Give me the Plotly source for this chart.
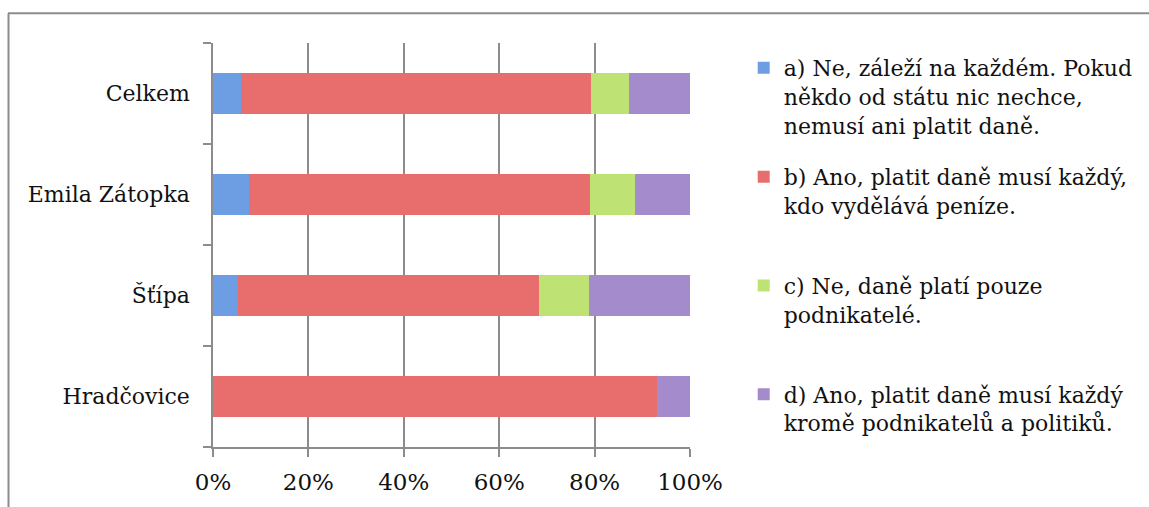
import plotly.graph_objects as go

categories = ["Hradčovice", "Šťípa", "Emila Zátopka", "Celkem"]
series_names = [
    "a) Ne, záleží na každém. Pokud<br>někdo od státu nic nechce,<br>nemusí ani platit daně.",
    "b) Ano, platit daně musí každý,<br>kdo vydělává peníze.<br> ",
    "c) Ne, daně platí pouze<br>podnikatelé.<br> ",
    "d) Ano, platit daně musí každý<br>kromě podnikatelů a politiků.<br> ",
]
a_vals = [0.0, 5.2, 7.5, 5.9]
b_vals = [93.1, 63.1, 71.5, 73.3]
c_vals = [0.0, 10.5, 9.5, 8.0]
d_vals = [6.9, 21.2, 11.5, 12.8]
x_ticks = [0, 20, 40, 60, 80, 100]
x_tick_labels = ["0%", "20%", "40%", "60%", "80%", "100%"]

colors = ["#6D9EE3", "#E86E6E", "#BEE374", "#A48BCB"]

FONT = "DejaVu Serif"

fig = go.Figure()
for name, vals, col, i in zip(series_names, [a_vals, b_vals, c_vals, d_vals], colors, range(4)):
    fig.add_trace(go.Bar(
        y=categories, x=vals, orientation="h", name=name,
        marker=dict(color=col, line=dict(width=0)),
        legendgroup=f"g{i}",
    ))

grid = "#8C8C8C"
fig.update_layout(
    barmode="stack",
    bargap=0.6,
    width=1149, height=507,
    margin=dict(l=213, r=459, t=43, b=60, autoexpand=False),
    paper_bgcolor="white", plot_bgcolor="white",
    font=dict(family=FONT, size=22, color="#111111"),
    showlegend=True,
    legend=dict(
        x=1.1126, y=0.99, xanchor="left", yanchor="top",
        valign="top", traceorder="grouped", tracegroupgap=20,
        font=dict(family=FONT, size=22, color="#111111"),
        itemwidth=30, bgcolor="rgba(0,0,0,0)", maxheight=490,
    ),
    xaxis=dict(
        range=[0, 100], tickvals=x_ticks, ticktext=x_tick_labels,
        tickfont=dict(family=FONT, size=23, color="#111111"),
        showgrid=True, gridcolor=grid, gridwidth=1.5,
        showline=True, linecolor=grid, linewidth=1.5,
        ticks="outside", ticklen=8, tickcolor=grid, tickwidth=1.5,
        ticklabelstandoff=6, zeroline=False, fixedrange=True,
    ),
    yaxis=dict(
        categoryorder="array", categoryarray=categories,
        tickfont=dict(family=FONT, size=22, color="#111111"),
        showline=True, linecolor=grid, linewidth=1.5,
        ticks="outside", ticklen=8, tickcolor=grid, tickwidth=1.5,
        tickson="boundaries", showgrid=False,
        ticklabelstandoff=17, fixedrange=True,
    ),
)

# outer chart frame (top and left edges visible)
fig.add_shape(type="line", xref="paper", yref="paper",
              x0=-0.4298, x1=1.97, y0=1.0737, y1=1.0737,
              line=dict(color="#8C8C8C", width=2))
fig.add_shape(type="line", xref="paper", yref="paper",
              x0=-0.4287, x1=-0.4287, y0=1.0737, y1=-0.16,
              line=dict(color="#8C8C8C", width=2))

fig.write_html("out.html")
